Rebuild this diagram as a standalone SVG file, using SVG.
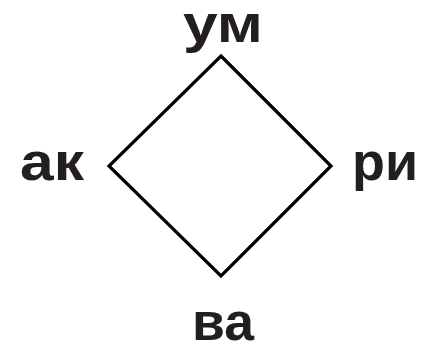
<svg xmlns="http://www.w3.org/2000/svg" width="443" height="347" viewBox="0 0 443 347">
<style>
.lbl{font-family:"Liberation Sans",Arial,sans-serif;font-weight:bold;font-size:54px;fill:#231f20;text-anchor:middle}
.edge{fill:none;stroke:#000;stroke-width:3.2;stroke-linejoin:miter}
</style>
<rect width="443" height="347" fill="#fff"/>
<g id="connectors">
<path class="edge" d="M221,56 L331,166 L221,276 L109,166 Z"/>
</g>
<g id="node-um"><text class="lbl" x="223" y="42" textLength="80" lengthAdjust="spacingAndGlyphs">ум</text></g>
<g id="node-ak"><text class="lbl" x="52" y="180" textLength="64" lengthAdjust="spacingAndGlyphs">ак</text></g>
<g id="node-ri"><text class="lbl" x="385" y="180" textLength="66" lengthAdjust="spacingAndGlyphs">ри</text></g>
<g id="node-va"><text class="lbl" x="223" y="340" textLength="62" lengthAdjust="spacingAndGlyphs">ва</text></g>
</svg>
